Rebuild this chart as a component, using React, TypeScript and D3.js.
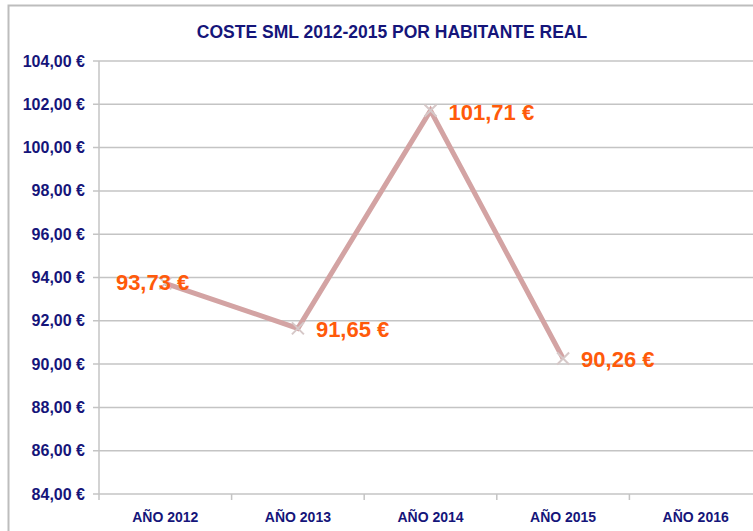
import React, { useEffect, useRef } from 'react'
import * as d3 from 'd3'

const categories = ['AÑO 2012', 'AÑO 2013', 'AÑO 2014', 'AÑO 2015', 'AÑO 2016']
const values = [93.73, 91.65, 101.71, 90.26]
const valueLabels = ['93,73 €', '91,65 €', '101,71 €', '90,26 €']
const yTicks = [84, 86, 88, 90, 92, 94, 96, 98, 100, 102, 104]

const W = 753
const H = 531
const FONT = "'Liberation Sans Narrow', 'Liberation Sans', Arial, sans-serif"
const NAVY = '#15157a'
const ORANGE = '#ff5a0a'

// label offsets relative to each point (dx, dy, anchor)
const labelPos: [number, number, string][] = [
  [24, 7, 'end'],
  [18, 9, 'start'],
  [18, 9, 'start'],
  [18, 9, 'start']
]

export default function App () {
  const ref = useRef<SVGSVGElement>(null)

  useEffect(() => {
    const svg = d3.select(ref.current)
    svg.selectAll('*').remove()

    const x = d3.scaleBand().domain(categories).range([99, 99 + 5 * 132.6])
    const y = d3.scaleLinear().domain([84, 104]).range([494, 61])

    // outer frame
    svg.append('rect')
      .attr('x', 8.5).attr('y', 5.5)
      .attr('width', W).attr('height', H)
      .attr('fill', 'white').attr('stroke', '#bdbdbd').attr('stroke-width', 2)

    svg.append('text')
      .attr('x', 392).attr('y', 38)
      .attr('text-anchor', 'middle')
      .attr('font-family', FONT).attr('font-weight', 'bold').attr('font-size', 17.5)
      .attr('fill', NAVY)
      .text('COSTE SML 2012-2015 POR HABITANTE REAL')

    // gridlines
    svg.append('g').selectAll('line')
      .data(yTicks)
      .enter().append('line')
      .attr('x1', 93).attr('x2', W)
      .attr('y1', d => y(d)).attr('y2', d => y(d))
      .attr('stroke', '#c4c4c4').attr('stroke-width', 1.5)

    svg.append('g').selectAll('text')
      .data(yTicks)
      .enter().append('text')
      .attr('x', 85).attr('y', d => y(d) + 5.5)
      .attr('text-anchor', 'end')
      .attr('font-family', FONT).attr('font-weight', 'bold').attr('font-size', 16)
      .attr('fill', NAVY)
      .text(d => d3.format('.2f')(d).replace('.', ',') + ' €')

    // y axis line
    svg.append('line')
      .attr('x1', 99).attr('x2', 99)
      .attr('y1', y(104)).attr('y2', y(84))
      .attr('stroke', '#c4c4c4').attr('stroke-width', 1.5)

    // x ticks at band boundaries
    const bounds = categories.map(c => x(c) as number)
    svg.append('g').selectAll('line')
      .data(bounds)
      .enter().append('line')
      .attr('x1', d => d).attr('x2', d => d)
      .attr('y1', y(84)).attr('y2', y(84) + 6)
      .attr('stroke', '#c4c4c4').attr('stroke-width', 1.5)

    svg.append('g').selectAll('text')
      .data(categories)
      .enter().append('text')
      .attr('x', d => (x(d) as number) + x.bandwidth() / 2)
      .attr('y', 522)
      .attr('text-anchor', 'middle')
      .attr('font-family', FONT).attr('font-weight', 'bold').attr('font-size', 14)
      .attr('fill', NAVY)
      .text(d => d)

    const pts = values.map((v, i) => ({
      x: (x(categories[i]) as number) + x.bandwidth() / 2,
      y: y(v),
      label: valueLabels[i],
      pos: labelPos[i]
    }))

    const line = d3.line<{ x: number, y: number }>().x(d => d.x).y(d => d.y)
    svg.append('path')
      .datum(pts)
      .attr('d', line)
      .attr('fill', 'none')
      .attr('stroke', '#d3a3a3').attr('stroke-width', 5)
      .attr('stroke-linejoin', 'miter')

    const mk = svg.append('g').selectAll('g')
      .data(pts)
      .enter().append('g')
      .attr('transform', d => 'translate(' + d.x + ',' + d.y + ')')
    mk.append('path')
      .attr('d', 'M-6,-6L6,6M-6,6L6,-6')
      .attr('stroke', '#d6c8c8').attr('stroke-width', 2)

    svg.append('g').selectAll('text')
      .data(pts)
      .enter().append('text')
      .attr('x', d => d.x + d.pos[0])
      .attr('y', d => d.y + d.pos[1])
      .attr('text-anchor', d => d.pos[2])
      .attr('font-family', FONT).attr('font-weight', 'bold').attr('font-size', 22)
      .attr('fill', ORANGE)
      .text(d => d.label)
  }, [])

  return <svg
    ref={ref}
    width={W}
    height={H}
    style={{ position: 'absolute', left: 0, top: 0, display: 'block', background: 'white' }}
  />
}
